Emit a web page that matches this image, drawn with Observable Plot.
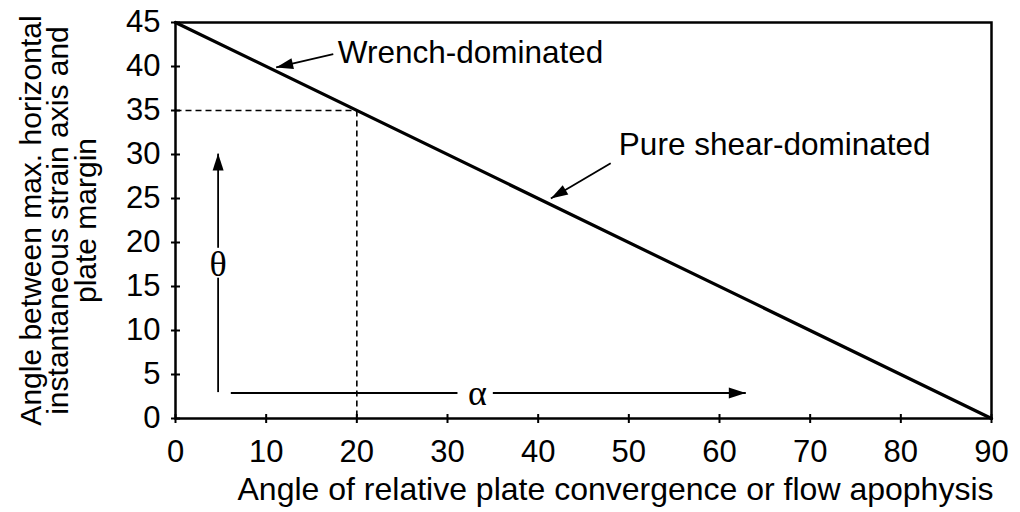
<!DOCTYPE html>
<html>
<head>
<meta charset="utf-8">
<script src="https://cdn.jsdelivr.net/npm/d3@7"></script>
<script src="https://cdn.jsdelivr.net/npm/@observablehq/plot@0.6"></script>
<style>
  html, body { margin: 0; padding: 0; background: #fff; }
  #chart { width: 1020px; height: 512px; }
</style>
</head>
<body>
<div id="chart"></div>
<script>
// ---- data ----
const xTicks = [0, 10, 20, 30, 40, 50, 60, 70, 80, 90];
const yTicks = [0, 5, 10, 15, 20, 25, 30, 35, 40, 45];
const convergence = [0, 90];          // angle of relative plate convergence (alpha)
const strainAngle = [45, 0];          // angle of max. horizontal ISA vs margin (theta)
const exampleAlpha = 20;
const exampleTheta = 35;

const xTitle = "Angle of relative plate convergence or flow apophysis";
const yTitle = "Angle between max. horizontal\ninstantaneous strain axis and\nplate margin";

const labelText = ["Wrench-dominated", "Pure shear-dominated"];
const labelX = [17.9, 48.9];
const labelY = [41.5, 31.1];

// annotation arrows: shaft pieces (from -> to), and tips with their direction origin
const shaftX1 = [17.4, 48.0, 4.7, 4.7, 6.1, 35.0];
const shaftY1 = [41.4, 29.0, 3.0, 19.4, 2.9, 2.9];
const shaftX2 = [11.1, 41.4, 4.7, 4.7, 31.1, 62.9];
const shaftY2 = [39.9, 25.0, 16.0, 30.1, 2.9, 2.9];
const tipX = [11.1, 41.4, 4.7, 62.9];
const tipY = [39.9, 25.0, 30.1, 2.9];
const fromX = [17.4, 48.0, 4.7, 35.0];
const fromY = [41.4, 29.0, 19.4, 2.9];

const greekText = ["\u03b8", "\u03b1"];
const greekX = [4.7, 33.3];
const greekY = [17.5, 2.8];

// ---- layout ----
const W = 1020, H = 512;
const mL = 175, mR = 29, mT = 22, mB = 94;
const kx = (W - mL - mR) / 90, ky = (H - mT - mB) / 45;

const lineData = convergence.map((a, i) => ({a, t: strainAngle[i]}));
const shafts = shaftX1.map((_, i) => ({x1: shaftX1[i], y1: shaftY1[i], x2: shaftX2[i], y2: shaftY2[i]}));
const tips = tipX.map((_, i) => ({
  x: tipX[i], y: tipY[i],
  rot: Math.atan2(-(tipY[i] - fromY[i]) * ky, (tipX[i] - fromX[i]) * kx) * 180 / Math.PI
}));
const labels = labelText.map((t, i) => ({t, x: labelX[i], y: labelY[i]}));
const greek = greekText.map((t, i) => ({t, x: greekX[i], y: greekY[i]}));

// custom symbols
const headSymbol = { draw(ctx) { ctx.moveTo(0, 0); ctx.lineTo(-17, -5.5); ctx.lineTo(-17, 5.5); ctx.closePath(); } };
const hTick = { draw(ctx) { ctx.moveTo(-4.5, 0); ctx.lineTo(4.5, 0); } };
const vTick = { draw(ctx) { ctx.moveTo(0, -4.5); ctx.lineTo(0, 4.5); } };

const font = "'Liberation Sans', Arial, Helvetica, sans-serif";
const serif = "'Liberation Serif', 'Times New Roman', serif";

const chart = Plot.plot({
  width: W, height: H,
  marginLeft: mL, marginRight: mR, marginTop: mT, marginBottom: mB,
  style: {fontFamily: font, fontSize: "30px", color: "black", background: "white"},
  x: {domain: [0, 90]},
  y: {domain: [0, 45]},
  marks: [
    Plot.frame({stroke: "black", strokeWidth: 2.5}),
    Plot.axisX({ticks: xTicks, tickSize: 0, tickPadding: 21, label: null, fontSize: 31}),
    Plot.axisY({ticks: yTicks, tickSize: 0, tickPadding: 15, label: null, fontSize: 31}),
    Plot.dot(yTicks, {x: 0, y: d => d, symbol: hTick, stroke: "black", fill: "none", strokeWidth: 2}),
    Plot.dot(xTicks, {x: d => d, y: 0, symbol: vTick, stroke: "black", fill: "none", strokeWidth: 2}),
    // guide dashed lines
    Plot.link([{x1: 0, y1: exampleTheta, x2: exampleAlpha, y2: exampleTheta},
               {x1: exampleAlpha, y1: exampleTheta, x2: exampleAlpha, y2: 0}],
      {x1: "x1", y1: "y1", x2: "x2", y2: "y2", stroke: "black", strokeWidth: 1.6, strokeDasharray: "6,4"}),
    // main relationship
    Plot.line(lineData, {x: "a", y: "t", stroke: "black", strokeWidth: 3.2}),
    // annotation arrows
    Plot.link(shafts, {x1: "x1", y1: "y1", x2: "x2", y2: "y2", stroke: "black", strokeWidth: 1.8}),
    Plot.dot(tips, {x: "x", y: "y", rotate: "rot", symbol: headSymbol, fill: "black", stroke: "none"}),
    Plot.text(labels, {x: "x", y: "y", text: "t", textAnchor: "start", fontSize: 31.5}),
    Plot.text(greek, {x: "x", y: "y", text: "t", fontFamily: serif, fontSize: 36}),
    // axis titles
    Plot.text([xTitle], {frameAnchor: "bottom-right", textAnchor: "end", lineAnchor: "middle", dx: 2, dy: 71, fontSize: 32}),
    Plot.text([yTitle], {frameAnchor: "left", rotate: -90, textAnchor: "middle", lineAnchor: "middle", dx: -116, lineHeight: 0.93, fontSize: 30})
  ]
});
document.getElementById("chart").append(chart);
</script>
</body>
</html>
